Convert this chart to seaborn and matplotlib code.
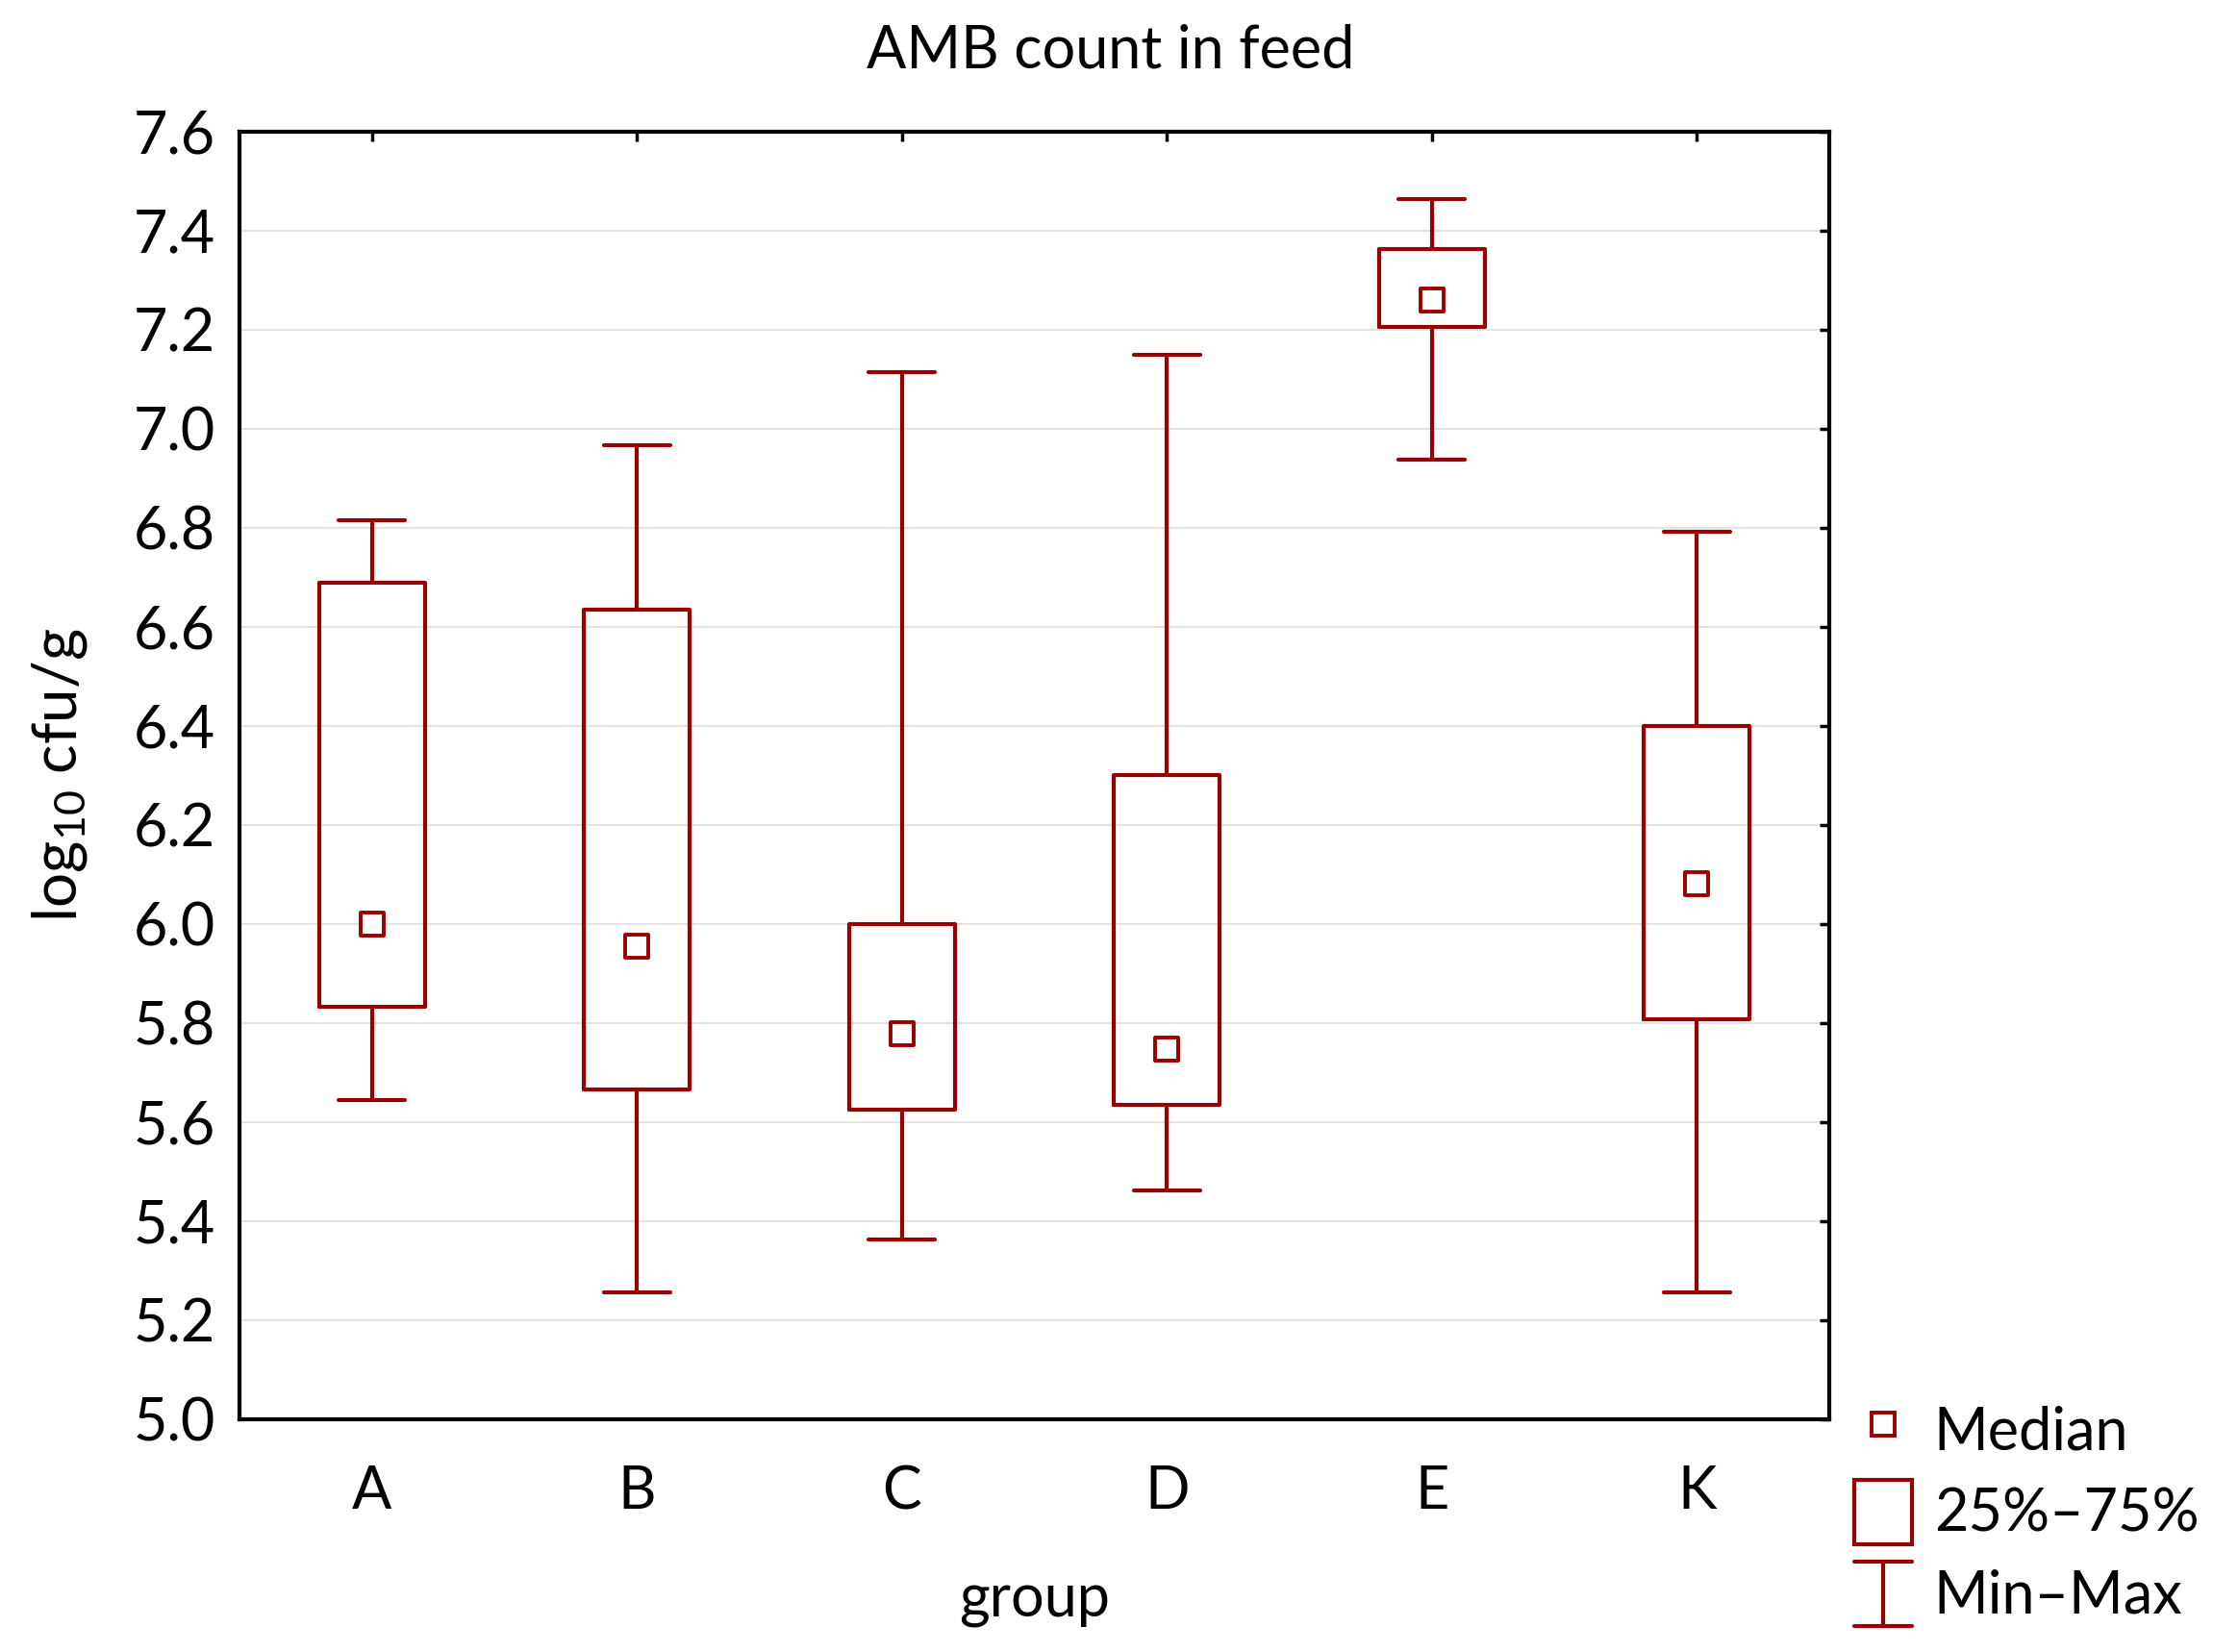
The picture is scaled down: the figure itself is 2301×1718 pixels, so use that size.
import numpy as np
import pandas as pd
import seaborn as sns
import matplotlib.pyplot as plt
from matplotlib.lines import Line2D
from matplotlib.patches import Rectangle
from matplotlib.legend_handler import HandlerBase

# values (log10 cfu/g)
groups = ['A', 'B', 'C', 'D', 'E', 'K']
mins = [5.645, 5.257, 5.363, 5.462, 6.938, 5.257]
q1s = [5.833, 5.665, 5.625, 5.634, 7.206, 5.808]
medians = [6.000, 5.956, 5.779, 5.748, 7.260, 6.082]
q3s = [6.690, 6.635, 6.000, 6.300, 7.363, 6.399]
maxs = [6.815, 6.966, 7.115, 7.149, 7.463, 6.792]

# five numbers per group -> boxplot with whis=(0,100) reproduces them exactly
rows = []
for g, a, b, c, d, e in zip(groups, mins, q1s, medians, q3s, maxs):
    for v in (a, b, c, d, e):
        rows.append({'group': g, 'value': v})
df = pd.DataFrame(rows)
dfMed = pd.DataFrame({'group': groups, 'median': medians})

red = '#990000'
sns.set_style('white')
plt.rcParams['font.family'] = ['Lato', 'DejaVu Sans']
plt.rcParams['mathtext.fontset'] = 'custom'
plt.rcParams['mathtext.rm'] = 'Lato'
plt.rcParams['mathtext.it'] = 'Lato'
plt.rcParams['text.color'] = 'black'
plt.rcParams['axes.labelcolor'] = 'black'

fig = plt.figure(figsize=(23.01, 17.18), dpi=100)
ax = fig.add_axes([0.1082, 0.1409, 0.7184, 0.7794])

sns.boxplot(data=df, x='group', y='value', order=groups, whis=(0, 100),
            width=0.4, fill=False, color=red, linecolor=red, linewidth=3,
            medianprops={'visible': False}, capwidths=0.25, ax=ax)
sns.stripplot(data=dfMed, x='group', y='median', order=groups, jitter=False,
              marker='s', s=17, color='white', edgecolor=red, linewidth=2.8,
              zorder=4, ax=ax)

ax.set_xlim(-0.5, 5.5)
ax.set_ylim(5.0, 7.6)
ax.set_yticks(np.arange(5.0, 7.61, 0.2))
ax.set_yticklabels([f'{t:.1f}' for t in np.arange(5.0, 7.61, 0.2)])
ax.yaxis.grid(True, color='#e3e3e3', linewidth=1.5)
ax.set_axisbelow(True)
for sp in ax.spines.values():
    sp.set_visible(True)
    sp.set_color('black')
    sp.set_linewidth(3)
ax.tick_params(axis='both', direction='in', length=7, width=2.5,
               top=True, right=True, labelsize=44, colors='black')
ax.tick_params(axis='y', pad=18)
ax.tick_params(axis='x', pad=34)

ax.set_xlabel('group', fontsize=44, labelpad=40)
ax.set_ylabel(r'log$_{10}$ cfu/g', fontsize=46, labelpad=33)
fig.suptitle('AMB count in feed', fontsize=44, x=0.502, y=0.986)


class HandlerMinMax(HandlerBase):
    def create_artists(self, legend, orig_handle, xdescent, ydescent,
                       width, height, fontsize, trans):
        cx = width / 2 - xdescent
        kw = dict(color=red, linewidth=3, transform=trans)
        return [Line2D([cx, cx], [-ydescent, height - ydescent], **kw),
                Line2D([-xdescent, width - xdescent], [height - ydescent] * 2, **kw),
                Line2D([-xdescent, width - xdescent], [-ydescent] * 2, **kw)]


hMed = Line2D([], [], linestyle='none', marker='s', markersize=17,
              markerfacecolor='white', markeredgecolor=red, markeredgewidth=2.8)
hBox = Rectangle((0, 0), 1, 1, facecolor='white', edgecolor=red, linewidth=3)
hRange = Line2D([], [])
fig.legend([hMed, hBox, hRange], ['Median', '25%\u201375%', 'Min\u2013Max'],
           handler_map={hRange: HandlerMinMax()},
           loc='lower left', bbox_to_anchor=(0.838, 0.016), frameon=False,
           fontsize=44, handlelength=0.97, handleheight=1.3,
           handletextpad=0.38, labelspacing=0.3, borderpad=0, borderaxespad=0)

fig.savefig('out.png', dpi=100)
